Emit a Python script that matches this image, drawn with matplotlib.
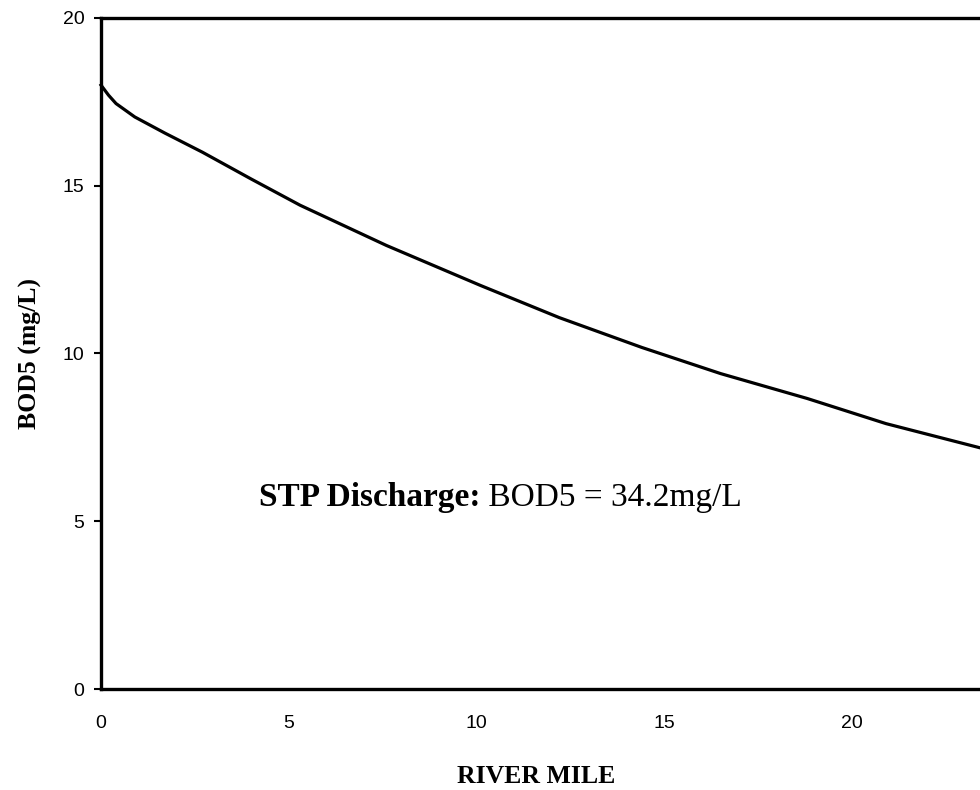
import matplotlib
matplotlib.use('Agg')
import matplotlib.pyplot as plt

# BOD5 profile along the river
river_mile = [0, 0.2, 0.4, 0.9, 1.7, 2.7, 4.0, 5.3, 7.6, 10.1, 12.2, 14.4, 16.5, 18.8, 20.9, 23.4, 25]
bod5 = [18.0, 17.7, 17.45, 17.05, 16.57, 16.0, 15.2, 14.42, 13.22, 12.03, 11.07, 10.18, 9.40, 8.66, 7.91, 7.19, 6.75]
x_ticks = [0, 5, 10, 15, 20]
y_ticks = [0, 5, 10, 15, 20]

serif = ['Liberation Serif', 'DejaVu Serif']
sans = ['Liberation Sans', 'DejaVu Sans']

fig = plt.figure(figsize=(9.8, 7.9), dpi=100)
# axes runs past the right edge, like the cropped original
ax = fig.add_axes([101 / 980, 101 / 790, 939 / 980, 671 / 790])

ax.plot(river_mile, bod5, color='black', linewidth=2.3, clip_on=False)

ax.set_xlim(0, 25)
ax.set_ylim(0, 20)
ax.set_xticks(x_ticks)
ax.set_yticks(y_ticks)
for lab in ax.get_xticklabels() + ax.get_yticklabels():
    lab.set_family(sans)
    lab.set_fontsize(14)
ax.tick_params(axis='x', length=0, pad=19)
ax.tick_params(axis='y', length=5, width=1.5, pad=7, direction='out')

for side in ['left', 'bottom', 'top']:
    ax.spines[side].set_linewidth(2.4)
ax.spines['right'].set_visible(False)

ax.set_ylabel('BOD5 (mg/L)', family=serif, fontweight='bold', fontsize=18.5)
ax.yaxis.set_label_coords(-0.063, 0.5)
ax.set_xlabel('RIVER MILE', family=serif, fontweight='bold', fontsize=18.5)
ax.xaxis.set_label_coords(0.463, -0.113)

t1 = ax.text(4.2, 5.7, 'STP Discharge:', family=serif, fontweight='bold',
             fontsize=24, ha='left', va='center')
ax.annotate(' BOD5 = 34.2mg/L', xy=(1, 0.5), xycoords=t1, family=serif,
            fontsize=24, ha='left', va='center')

fig.savefig('out.png', dpi=100)
